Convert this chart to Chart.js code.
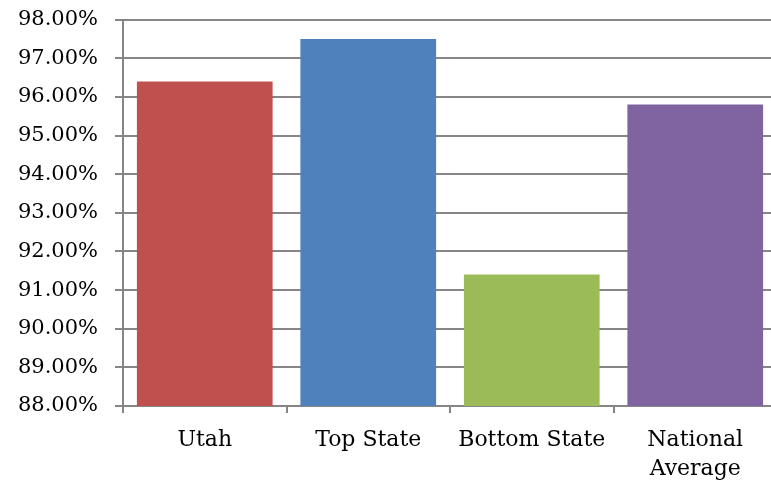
<!DOCTYPE html>
<html>
<head>
<meta charset="utf-8">
<script src="https://cdn.jsdelivr.net/npm/chart.js@4"></script>
<style>
  html, body { margin: 0; padding: 0; background: #fff; overflow: hidden; }
  #wrap { width: 777px; height: 494px; position: relative; top: -10px; }
</style>
</head>
<body>
<div id="wrap"><canvas id="chart"></canvas></div>
<script>
const categories = ["Utah", "Top State", "Bottom State", ["National", "Average"]];
const values = [96.4, 97.5, 91.4, 95.8];
const barColors = ["#C0504D", "#4F81BD", "#9BBB59", "#8064A2"];
const yMin = 88;
const yMax = 98;

const gridGray = "#868686";
const xFont = { family: "'DejaVu Serif', serif", size: 22, lineHeight: 1.35 };
const yFont = { family: "'DejaVu Serif', serif", size: 21 };

new Chart(document.getElementById("chart"), {
  type: "bar",
  data: {
    labels: categories,
    datasets: [
      {
        data: values,
        backgroundColor: barColors,
        borderWidth: 0,
        barPercentage: 0.83,
        categoryPercentage: 1,
      },
    ],
  },
  options: {
    responsive: true,
    maintainAspectRatio: false,
    animation: false,
    layout: { padding: 0 },
    plugins: {
      legend: { display: false },
      tooltip: { enabled: false },
    },
    scales: {
      x: {
        offset: true,
        grid: {
          offset: true,
          drawOnChartArea: false,
          drawTicks: true,
          tickLength: 7,
          color: gridGray,
          lineWidth: 2,
        },
        border: { color: gridGray, width: 2 },
        ticks: { color: "#000", font: xFont, padding: 12 },
        afterFit: (s) => { s.height = 78; },
      },
      y: {
        min: yMin,
        max: yMax,
        grid: {
          color: gridGray,
          lineWidth: 2,
          tickLength: 8,
        },
        border: { color: gridGray, width: 2 },
        ticks: {
          stepSize: 1,
          color: "#000",
          font: yFont,
          padding: 17,
          callback: (v) => v.toFixed(2) + "%",
        },
        afterFit: (s) => { s.width = 123; },
      },
    },
  },
});
</script>
</body>
</html>
